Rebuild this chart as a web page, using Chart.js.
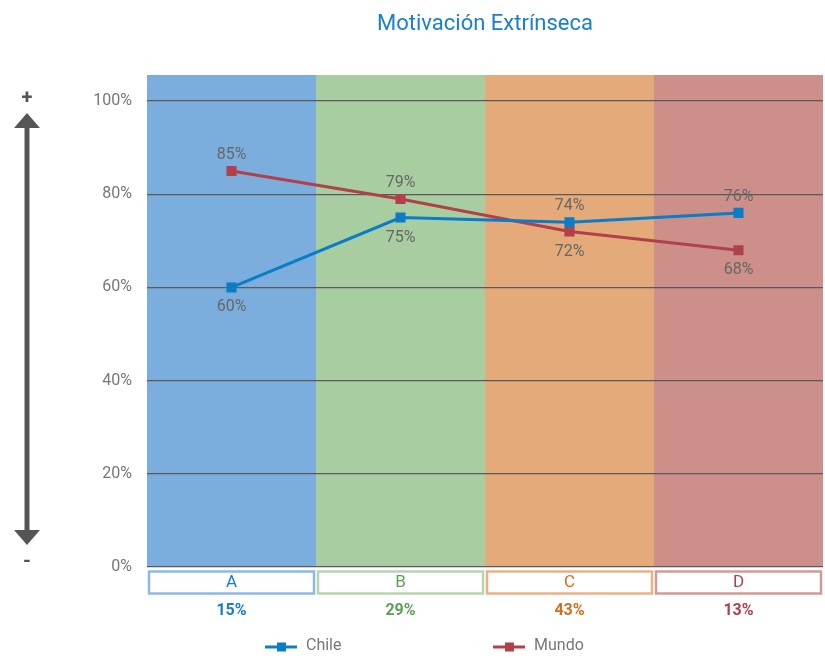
<!DOCTYPE html>
<html>
<head>
<meta charset="utf-8">
<script src="https://cdn.jsdelivr.net/npm/chart.js@4.4.1/dist/chart.umd.min.js"></script>
<style>
  html, body { margin: 0; padding: 0; background: #fff; }
  #wrap { width: 825px; height: 658px; }
</style>
</head>
<body>
<div id="wrap"><canvas id="myChart"></canvas></div>
<script>
const categorias = ['A', 'B', 'C', 'D'];
const participacion = ['15%', '29%', '43%', '13%'];
const chile = [60, 75, 74, 76];
const mundo = [85, 79, 72, 68];
const ticksY = [0, 20, 40, 60, 80, 100];

const FONT = 'Roboto, "Liberation Sans", sans-serif';
const fondos = ['#7baedd', '#a8cda0', '#e5aa7a', '#cd8f8a'];
const bordes = ['#8cb9e3', '#b5d5ae', '#e9b286', '#d29a96'];
const colorTexto = ['#1a7cc6', '#5aa257', '#d0701f', '#b0404c'];

// franjas de color detras de cada categoria
const franjas = {
  id: 'franjas',
  beforeDraw(chart) {
    const { ctx, chartArea, scales } = chart;
    const x = scales.x;
    const paso = (chartArea.right - chartArea.left) / categorias.length;
    ctx.save();
    categorias.forEach((c, i) => {
      const centro = x.getPixelForValue(i);
      ctx.fillStyle = fondos[i];
      ctx.fillRect(centro - paso / 2, chartArea.top, paso, chartArea.bottom - chartArea.top);
    });
    ctx.restore();
  }
};

// etiquetas, cajas de categoria, leyenda y flecha lateral
const extras = {
  id: 'extras',
  afterDatasetsDraw(chart) {
    const { ctx } = chart;
    ctx.save();
    ctx.font = '16px ' + FONT;
    ctx.fillStyle = '#666';
    ctx.textAlign = 'center';
    ctx.textBaseline = 'middle';
    chart.data.datasets.forEach((ds, d) => {
      const otra = chart.data.datasets[1 - d].data;
      chart.getDatasetMeta(d).data.forEach((p, i) => {
        const arriba = ds.data[i] >= otra[i];
        ctx.fillText(ds.data[i] + '%', p.x, arriba ? p.y - 16 : p.y + 20);
      });
    });
    ctx.restore();
  },
  afterDraw(chart) {
    const { ctx, chartArea, scales } = chart;
    const x = scales.x;
    const paso = (chartArea.right - chartArea.left) / categorias.length;
    ctx.save();

    // cajas con la letra de cada categoria
    categorias.forEach((c, i) => {
      const centro = x.getPixelForValue(i);
      ctx.fillStyle = '#fff';
      ctx.fillRect(centro - paso / 2 + 1, 570, paso - 2, 24);
      ctx.strokeStyle = bordes[i];
      ctx.lineWidth = 2.5;
      ctx.strokeRect(centro - paso / 2 + 2, 571.5, paso - 4, 22);
      ctx.fillStyle = colorTexto[i];
      ctx.textAlign = 'center';
      ctx.textBaseline = 'middle';
      ctx.font = '17px ' + FONT;
      ctx.fillText(c, centro, 583);
      ctx.font = 'bold 16px ' + FONT;
      ctx.fillText(participacion[i], centro, 611);
    });

    // leyenda
    const posLeyenda = [265, 493];
    chart.data.datasets.forEach((ds, d) => {
      const x0 = posLeyenda[d];
      const y0 = 647;
      ctx.strokeStyle = ds.borderColor;
      ctx.lineWidth = 3;
      ctx.beginPath();
      ctx.moveTo(x0, y0);
      ctx.lineTo(x0 + 32, y0);
      ctx.stroke();
      ctx.fillStyle = ds.borderColor;
      ctx.fillRect(x0 + 12, y0 - 4.5, 9, 9);
      ctx.fillStyle = '#777';
      ctx.font = '16px ' + FONT;
      ctx.textAlign = 'left';
      ctx.fillText(ds.label, x0 + 41, y0 - 1);
    });

    // flecha de + a -
    ctx.fillStyle = '#555';
    ctx.strokeStyle = '#555';
    ctx.lineWidth = 5;
    ctx.beginPath();
    ctx.moveTo(27, 125);
    ctx.lineTo(27, 533);
    ctx.stroke();
    ctx.beginPath();
    ctx.moveTo(27, 113);
    ctx.lineTo(40, 128);
    ctx.lineTo(14, 128);
    ctx.closePath();
    ctx.fill();
    ctx.beginPath();
    ctx.moveTo(27, 545);
    ctx.lineTo(40, 530);
    ctx.lineTo(14, 530);
    ctx.closePath();
    ctx.fill();
    ctx.font = 'bold 20px ' + FONT;
    ctx.textAlign = 'center';
    ctx.textBaseline = 'middle';
    ctx.fillText('+', 27, 99);
    ctx.fillText('-', 27, 562);
    ctx.restore();
  }
};

function plotarGrafico() {
  const ctx = document.getElementById('myChart');
  new Chart(ctx, {
    type: 'line',
    data: {
      labels: categorias,
      datasets: [{
        label: 'Chile',
        data: chile,
        borderColor: '#0a7cc8',
        backgroundColor: '#0a7cc8',
        borderWidth: 3,
        pointStyle: 'rect',
        pointRadius: 5,
        pointHoverRadius: 5,
        tension: 0
      },
      {
        label: 'Mundo',
        data: mundo,
        borderColor: '#b0404a',
        backgroundColor: '#b0404a',
        borderWidth: 3,
        pointStyle: 'rect',
        pointRadius: 5,
        pointHoverRadius: 5,
        tension: 0
      }]
    },
    options: {
      responsive: true,
      maintainAspectRatio: false,
      animation: false,
      layout: { autoPadding: false, padding: { left: 0, right: 2, top: 0, bottom: 0 } },
      scales: {
        x: {
          offset: true,
          grid: { display: false },
          border: { display: false },
          ticks: { display: false },
          afterFit(scale) { scale.height = 91; }
        },
        y: {
          min: 0,
          max: 105.6,
          afterBuildTicks(scale) {
            scale.ticks = ticksY.map(v => ({ value: v }));
          },
          afterFit(scale) { scale.width = 147; },
          grid: { color: '#5a5a5a', lineWidth: 1.2, drawTicks: false },
          border: { display: false },
          ticks: {
            padding: 15,
            color: '#777',
            font: { size: 16, family: FONT },
            callback: v => v + '%'
          }
        }
      },
      plugins: {
        legend: { display: false },
        tooltip: { enabled: false },
        title: {
          display: true,
          fullSize: false,
          text: 'Motivación Extrínseca',
          color: '#1a80c8',
          font: { size: 22, family: FONT, weight: 'normal' },
          padding: { top: 11, bottom: 37.6 }
        }
      }
    },
    plugins: [franjas, extras]
  });
}
plotarGrafico();
</script>
</body>
</html>
